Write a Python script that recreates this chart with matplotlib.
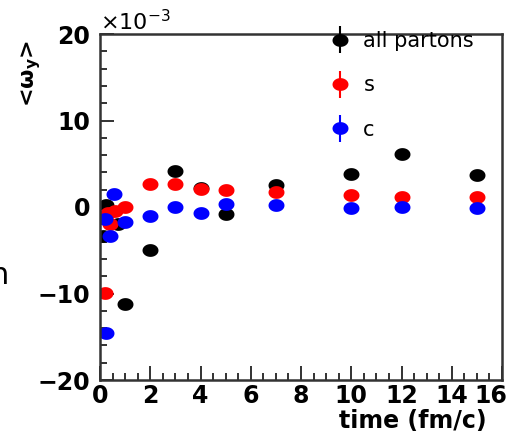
import numpy as np
import matplotlib
matplotlib.use("Agg")
import matplotlib.pyplot as plt
from matplotlib.path import Path
from matplotlib.markers import MarkerStyle
from matplotlib.legend_handler import HandlerErrorbar
from matplotlib.container import ErrorbarContainer
from matplotlib.ticker import MultipleLocator

# data (values in units of 1e-3)
t_all = [0.1, 0.25, 0.7, 1, 2, 3, 4, 5, 7, 10, 12, 15]
y_all = [-3.4, 0.2, -2.0, -11.2, -5.0, 4.2, 2.2, -0.85, 2.5, 3.8, 6.1, 3.7]
t_s = [0.2, 0.3, 0.4, 0.6, 1, 2, 3, 4, 5, 7, 10, 12, 15]
y_s = [-9.9, -0.75, -2.0, -0.5, 0.0, 2.7, 2.7, 2.1, 1.95, 1.75, 1.35, 1.2, 1.1]
t_c = [0.2, 0.25, 0.4, 0.55, 1, 2, 3, 4, 5, 7, 10, 12, 15]
y_c = [-1.35, -14.6, -3.3, 1.45, -1.7, -1.05, 0.0, -0.7, 0.35, 0.2, -0.1, 0.05, -0.1]
labels = ["all partons", "s", "c"]
colors = ["black", "#ff0000", "#0000ff"]
xticks = [0, 2, 4, 6, 8, 10, 12, 14, 16]
yticks = [-20, -10, 0, 10, 20]

plt.rcParams['font.family'] = ['DejaVu Sans']

fig = plt.figure(figsize=(5.13, 4.37), dpi=100)
ax = fig.add_axes([100/513, 57/437, 402/513, 346/437])

th = np.linspace(0, 2*np.pi, 60)
ell = Path(np.column_stack([np.cos(th), 0.8*np.sin(th)]), closed=True)
mk = MarkerStyle(ell)

handles = []
for t, y, c, lab in zip([t_all, t_s, t_c], [y_all, y_s, y_c], colors, labels):
    h = ax.errorbar(t, y, yerr=np.zeros(len(y)), linestyle='none', marker=mk,
                    markersize=11.5, color=c, markeredgewidth=0, ecolor=c,
                    elinewidth=1.5, capsize=4, capthick=1.5, label=lab)
    handles.append(h)

ax.set_xlim(0, 16)
ax.set_ylim(-20, 20)
ax.xaxis.set_minor_locator(MultipleLocator(0.5))
ax.yaxis.set_minor_locator(MultipleLocator(2))
ax.set_xticks(xticks)
ax.set_xticklabels([str(v) for v in xticks[:-1]] + [''], fontweight='bold')
ax.set_yticks(yticks)
ax.set_yticklabels([str(v).replace('-', '\u2212') for v in yticks], fontweight='bold')
ax.tick_params(which='both', direction='in', top=False, right=False,
               width=1.3, color='#222222')
ax.tick_params(which='major', length=10, labelsize=17)
ax.tick_params(axis='x', which='major', pad=3)
ax.tick_params(axis='y', which='major', pad=7)
ax.tick_params(which='minor', length=5)
# last x tick label shifted left to fit inside the figure
ax.text(xticks[-1] - 0.45, -0.013, str(xticks[-1]), transform=ax.get_xaxis_transform(),
        ha='center', va='top', fontsize=17, fontweight='bold')
for sp in ax.spines.values():
    sp.set_linewidth(1.8)
    sp.set_color('#333333')

ax.text(0.961, -0.083, 'time (fm/c)', transform=ax.transAxes, ha='right',
        va='top', fontsize=17, fontweight='bold')
ax.text(-0.172, 0.885, '<ω$_{\\mathbf{y}}$>', transform=ax.transAxes,
        rotation=90, ha='center', va='center', fontsize=16, fontweight='bold')
ax.text(0.0, 1.0, r'$\times$10$^{\mathregular{-3}}$', transform=ax.transAxes,
        ha='left', va='bottom', fontsize=16)
fig.text(-11/513, 1 - 284/437, 'n', fontsize=22, ha='left', va='baseline')

leg = ax.legend(handles=handles, labels=labels, loc='upper left',
                bbox_to_anchor=(330/513, 1 - 31/437), bbox_transform=fig.transFigure,
                frameon=False, fontsize=15, borderpad=0, borderaxespad=0,
                handlelength=1.0, handletextpad=0.6, labelspacing=1.17,
                handler_map={ErrorbarContainer: HandlerErrorbar(yerr_size=0.65)})

fig.savefig('out.png', dpi=100)
